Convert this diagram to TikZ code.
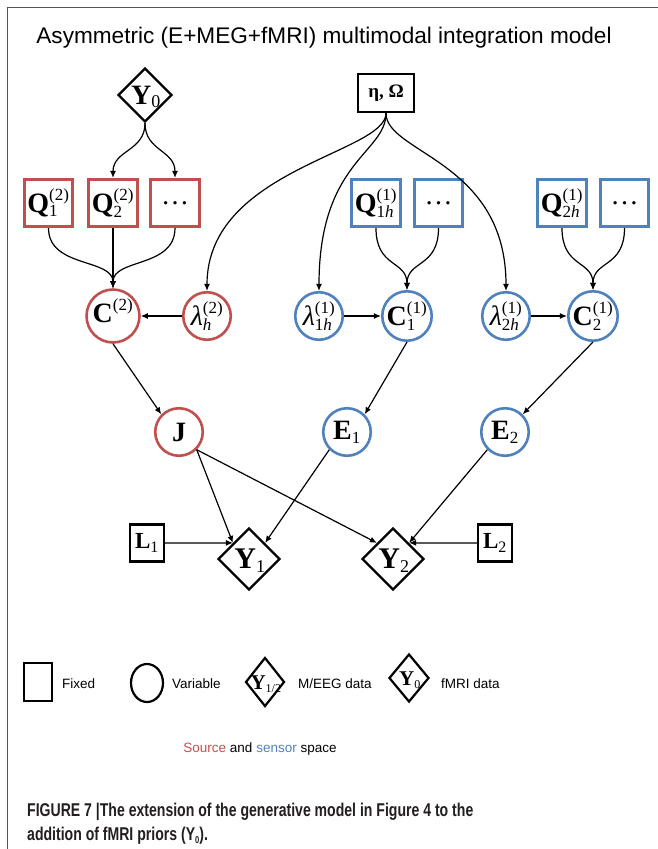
\documentclass[tikz,border=0pt]{standalone}
\usepackage{fontspec}
\setmainfont{Liberation Serif}
\newfontfamily\sansfnt{Liberation Sans}
\newfontfamily\capfnt[FakeStretch=0.76]{Liberation Sans}
\usetikzlibrary{arrows.meta,shapes.geometric}
\definecolor{srcred}{HTML}{C0504D}
\definecolor{senblue}{HTML}{4F81BD}
\definecolor{framegray}{RGB}{85,85,85}
\definecolor{captxt}{RGB}{35,31,32}
\newcommand\fs[1]{\fontsize{#1}{#1}\selectfont}
\newcommand\SupSub[3]{#1$^{\hbox{\fs{17}#2}}_{\hbox{\fs{17}#3}}$}
\newcommand\Sub[3]{#1$_{\hbox{\fs{#3}#2}}$}
\tikzset{
  redbox/.style={draw=srcred, line width=2.6pt, minimum width=48.5pt, minimum height=47.5pt, inner sep=0pt, font=\fs{28}},
  bluebox/.style={redbox, draw=senblue},
  redcirc/.style={circle, draw=srcred, line width=2.6pt, minimum size=47.5pt, inner sep=0pt, font=\fs{28}},
  bluecirc/.style={redcirc, draw=senblue},
  blkbox/.style={draw, line width=2.4pt, inner sep=0pt},
  datadiam/.style={diamond, draw, line width=2.4pt, inner sep=0pt},
  conn/.style={-{Latex[length=7pt,width=6pt]}, line width=1.2pt},
  lgtext/.style={font=\sansfnt\fs{13.5}, anchor=base west, inner sep=0pt},
}
\begin{document}
\begin{tikzpicture}[x=1pt,y=-1pt]
\useasboundingbox (0,0) rectangle (658,849);
% frame
\draw[framegray, line width=1.3pt] (658,7.5) -- (7.5,7.5) -- (7.5,849);
% title
\node[font=\sansfnt\fs{22.6}, inner sep=0pt] (title) at (324,38) {Asymmetric (E+MEG+fMRI) multimodal integration model};

% top nodes
\node[datadiam, minimum width=54pt, minimum height=54pt] (Y0) at (145,95) {};
\node[font=\fs{28}, inner sep=0pt] (Y0t) at (146,97) {\Sub{\textbf{Y}}{0}{18}};
\node[blkbox, minimum width=56pt, minimum height=38pt, font=\fs{19}] (EO) at (386,93) {\textbf{η, Ω}};

% Q row
\node[redbox] (Q12) at (48.5,203) {\SupSub{\textbf{Q}}{(2)}{1}};
\node[redbox] (Q22) at (113,203) {\SupSub{\textbf{Q}}{(2)}{2}};
\node[redbox] (D2) at (175,203) {…};
\node[bluebox] (Q1h) at (376,203) {\SupSub{\textbf{Q}}{(1)}{1\textit{h}}};
\node[bluebox] (D1) at (438.5,203) {…};
\node[bluebox] (Q2h) at (562,203) {\SupSub{\textbf{Q}}{(1)}{2\textit{h}}};
\node[bluebox] (D3) at (624.5,203) {…};

% circle row
\node[redcirc] (C2s) at (113,316) {\SupSub{\textbf{C}}{(2)}{\strut}};
\node[redcirc] (Lh2) at (207,316) {\SupSub{\textit{λ}}{(2)}{\textit{h}}};
\node[bluecirc] (L1h) at (319,316) {\SupSub{\textit{λ}}{(1)}{1\textit{h}}};
\node[bluecirc] (C1) at (407,316) {\SupSub{\textbf{C}}{(1)}{1}};
\node[bluecirc] (L2h) at (506,316) {\SupSub{\textit{λ}}{(1)}{2\textit{h}}};
\node[bluecirc] (C2) at (593,316) {\SupSub{\textbf{C}}{(1)}{2}};

% middle row
\node[redcirc] (J) at (179,432) {\textbf{J}};
\node[bluecirc] (E1) at (347,432) {\Sub{\textbf{E}}{1}{17}};
\node[bluecirc] (E2) at (505,432) {\Sub{\textbf{E}}{2}{17}};

% bottom row
\node[blkbox, minimum width=34pt, minimum height=37pt, font=\fs{23}] (L1) at (147,543) {\Sub{\textbf{L}}{1}{16}};
\node[datadiam, minimum width=62pt, minimum height=62pt] (Y1) at (249,559) {};
\node[font=\fs{30}, inner sep=0pt] (Y1t) at (250,561) {\Sub{\textbf{Y}}{1}{18}};
\node[datadiam, minimum width=62pt, minimum height=62pt] (Y2) at (393,559) {};
\node[font=\fs{30}, inner sep=0pt] (Y2t) at (394,561) {\Sub{\textbf{Y}}{2}{18}};
\node[blkbox, minimum width=34pt, minimum height=37pt, font=\fs{23}] (L2) at (495,543) {\Sub{\textbf{L}}{2}{16}};

% connectors from Y0
\draw[conn] (Y0.south) .. controls +(0,28) and +(0,-28) .. (Q22.north);
\draw[conn] (Y0.south) .. controls +(0,28) and +(0,-28) .. (D2.north);
% connectors from eta,Omega
\draw[conn] (EO.south) .. controls +(0,40) and +(0,-122) .. (Lh2.north);
\draw[conn] (EO.south) .. controls +(0,40) and +(0,-130) .. (L1h.north);
\draw[conn] (EO.south) .. controls +(0,40) and +(0,-130) .. (L2h.north);
% Q to C
\draw[conn] (Q12.south) .. controls +(0,40) and +(0,-30) .. (C2s.north);
\draw[conn] (Q22.south) -- (C2s.north);
\draw[conn] (D2.south) .. controls +(0,40) and +(0,-30) .. (C2s.north);
\draw[conn] (Q1h.south) .. controls +(0,40) and +(0,-30) .. (C1.north);
\draw[conn] (D1.south) .. controls +(0,40) and +(0,-30) .. (C1.north);
\draw[conn] (Q2h.south) .. controls +(0,40) and +(0,-30) .. (C2.north);
\draw[conn] (D3.south) .. controls +(0,40) and +(0,-30) .. (C2.north);
% lambda to C
\draw[conn] (Lh2.west) -- (C2s.east);
\draw[conn] (L1h.east) -- (C1.west);
\draw[conn] (L2h.east) -- (C2.west);
% C to J/E
\draw[conn] (C2s.south) -- (J.north west);
\draw[conn] (C1.south) -- (E1.north east);
\draw[conn] (C2.south) -- (E2.north east);
% to data
\draw[conn] (J.south east) -- (Y1.north west);
\draw[conn] (J.south east) -- (Y2.north west);
\draw[conn] (E1.south west) -- (Y1.north east);
\draw[conn] (E2.south west) -- (Y2.north east);
\draw[conn] (L1.east) -- (Y1.north west);
\draw[conn] (L2.west) -- (Y2.north east);

% legend
\node[blkbox, line width=2.2pt, minimum width=28pt, minimum height=38pt] (lgbox) at (38,682) {};
\node[lgtext] (lgfixed) at (62,688) {Fixed};
\node[ellipse, draw, line width=2.2pt, minimum width=32pt, minimum height=38pt, inner sep=0pt] (lgcirc) at (147,683) {};
\node[lgtext] (lgvar) at (172,688) {Variable};
\node[datadiam, line width=2.2pt, minimum width=39pt, minimum height=49pt, aspect=0.8] (lgd1) at (265,682) {};
\node[font=\fs{21}, inner sep=0pt] (lgd1t) at (266,684) {\textbf{Y}$_{\hbox{\fs{12}1/2}}$};
\node[lgtext] (lgmeeg) at (298,688) {M/EEG data};
\node[datadiam, line width=2.2pt, minimum width=40pt, minimum height=48pt, aspect=0.83] (lgd0) at (409,678) {};
\node[font=\fs{21}, inner sep=0pt] (lgd0t) at (410,680) {\textbf{Y}$_{\hbox{\fs{12}0}}$};
\node[lgtext] (lgfmri) at (441,688) {fMRI data};

\node[font=\sansfnt\fs{13.5}, anchor=base, inner sep=0pt] (space) at (260,752)
  {\textcolor{srcred}{Source} and \textcolor{senblue}{sensor} space};

% caption
\node[font=\capfnt\bfseries\fs{18.5}, text=captxt, anchor=base west, inner sep=0pt] (cap1) at (27,816)
  {FIGURE 7 |The extension of the generative model in Figure 4 to the};
\node[font=\capfnt\bfseries\fs{18.5}, text=captxt, anchor=base west, inner sep=0pt] (cap2) at (27,840)
  {addition of fMRI priors (Y\raisebox{-0.35ex}{\fs{10}0}).};
\end{tikzpicture}
\end{document}
